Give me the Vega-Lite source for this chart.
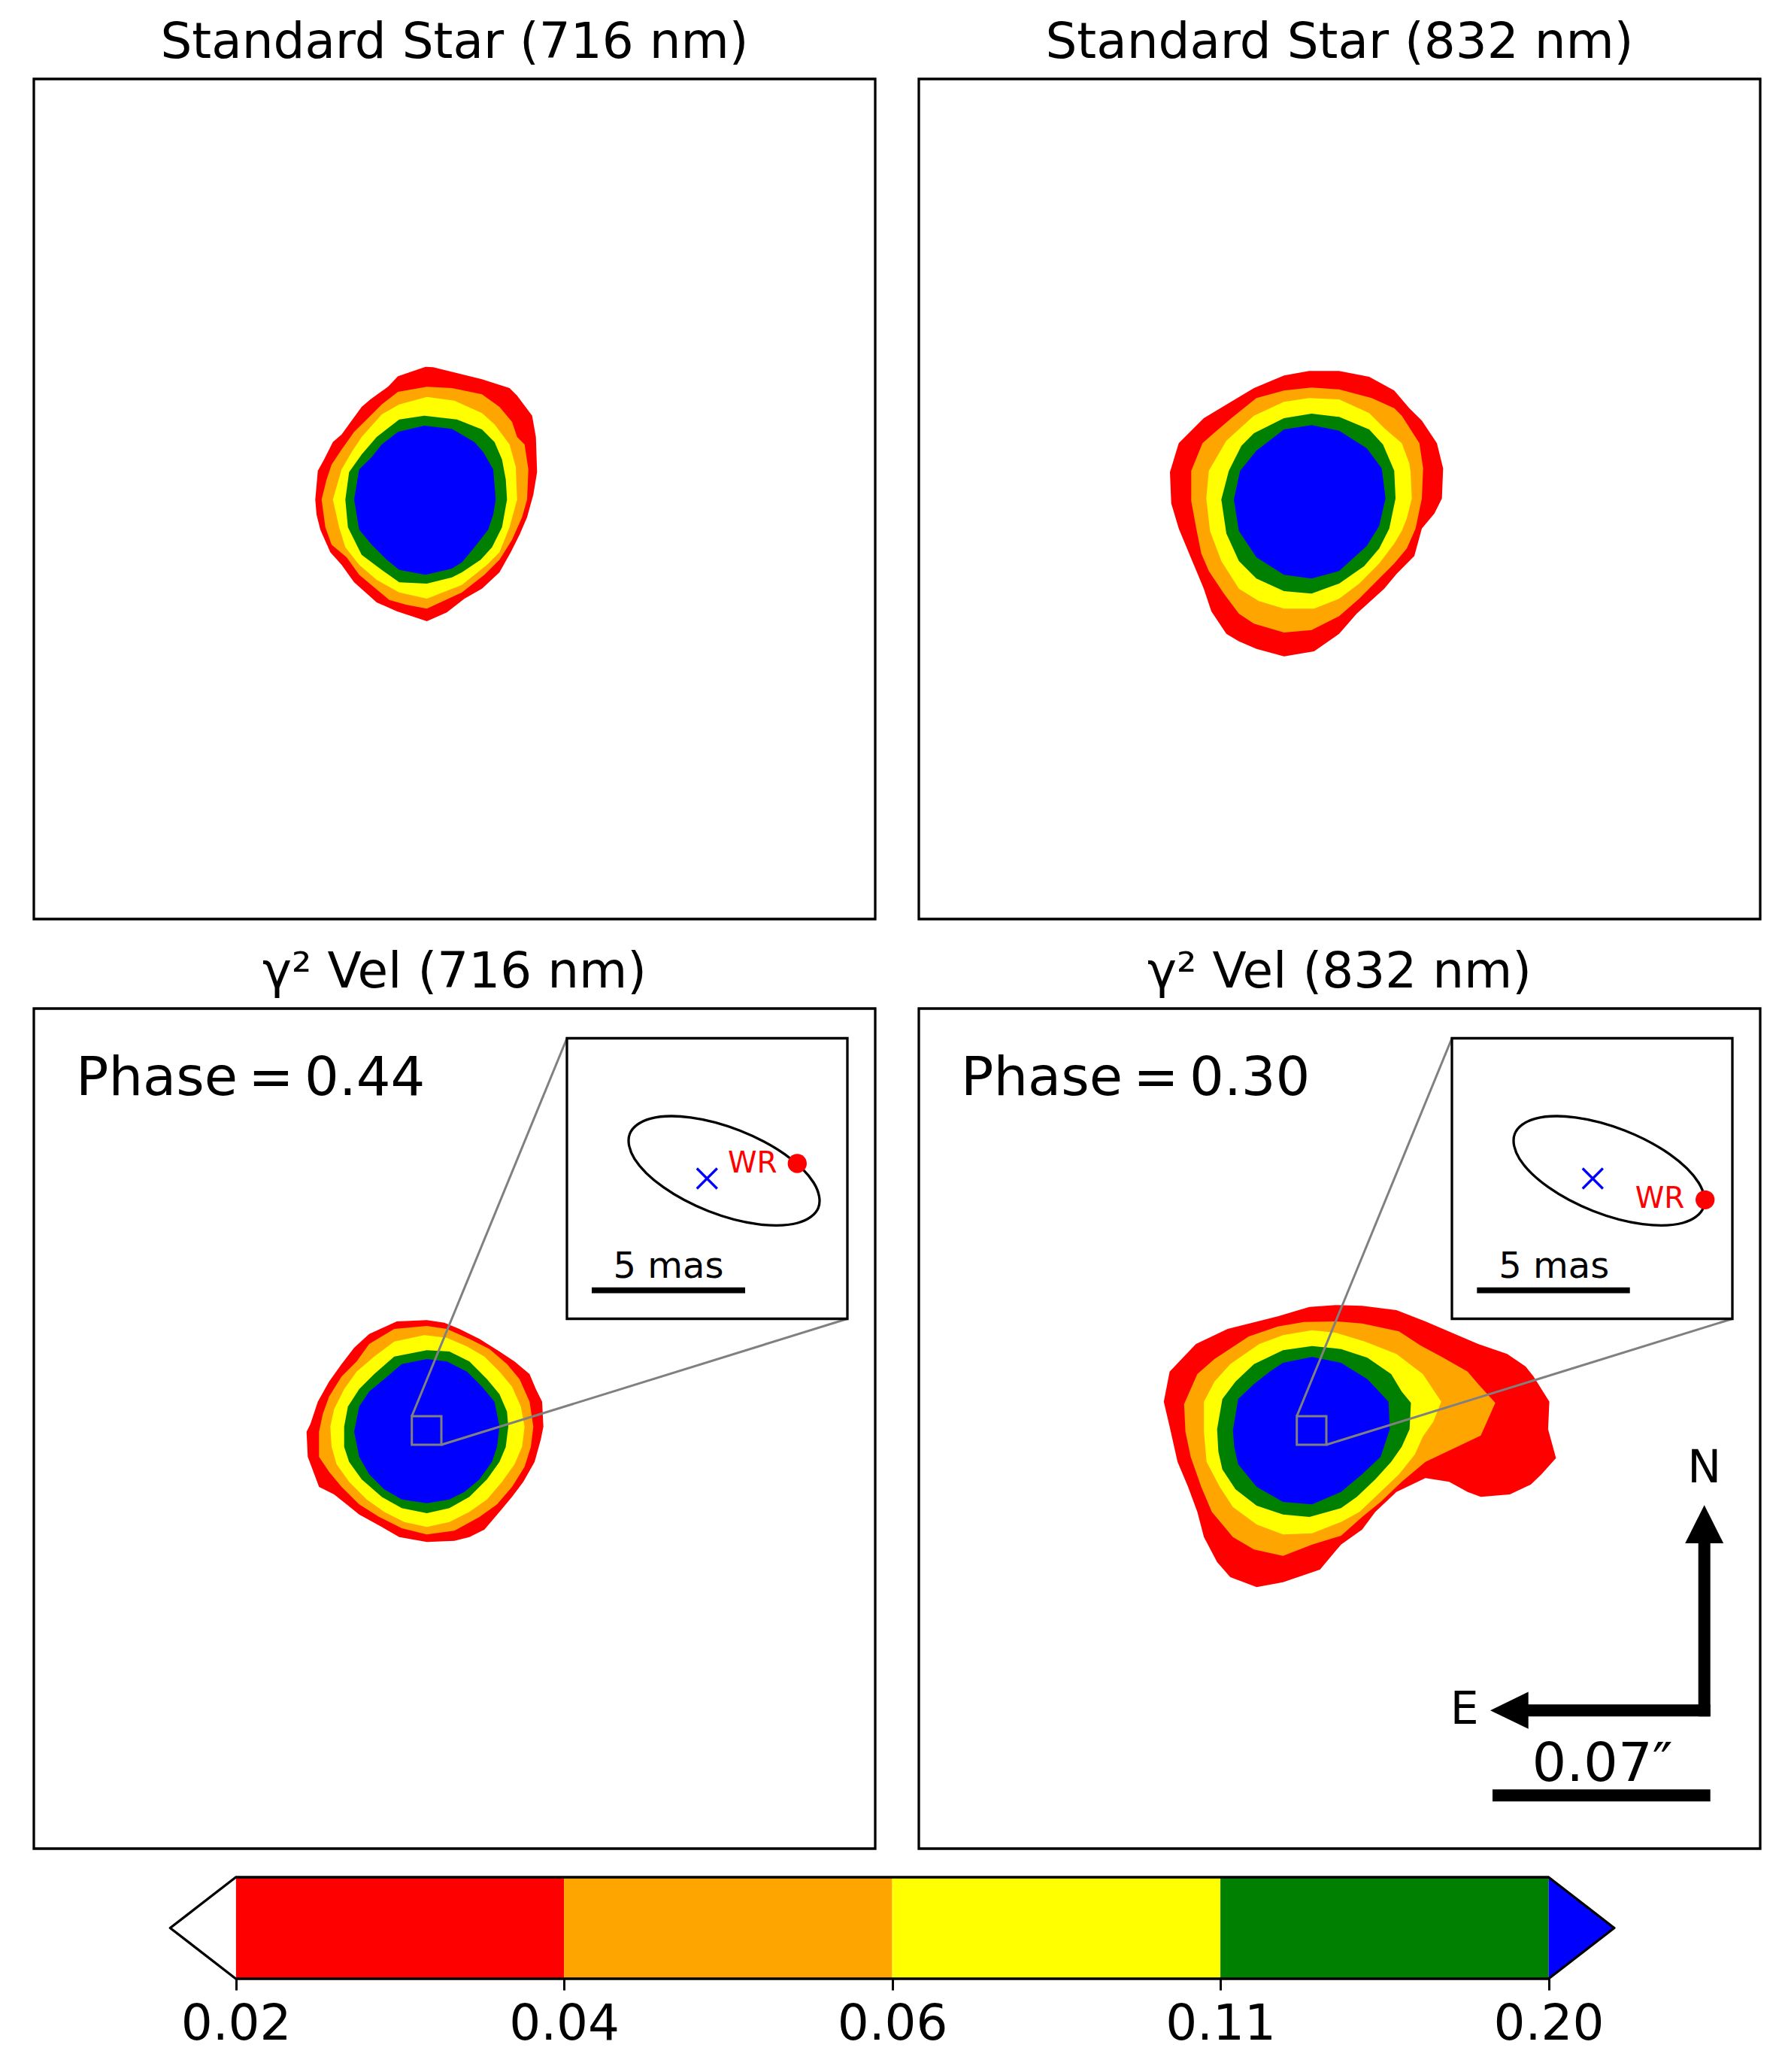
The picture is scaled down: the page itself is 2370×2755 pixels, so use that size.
{
"$schema": "https://vega.github.io/schema/vega-lite/v6.json",
"background": "white",
"padding": {"left": 43, "top": 22, "right": 10, "bottom": 10},
"config": {
  "view": {"stroke": "black", "strokeWidth": 3.3},
  "title": {"font": "DejaVu Sans", "fontSize": 66, "fontWeight": "normal", "color": "black", "offset": 14, "anchor": "middle"},
  "text": {"font": "DejaVu Sans", "color": "black"}
},
"datasets": {
"tl": [
{"level":0.02,"x":48.43,"y":72.17},{"level":0.02,"x":52.1,"y":73.43},{"level":0.02,"x":53.1,"y":73.37},{"level":0.02,"x":59.6,"y":71.77},{"level":0.02,"x":63.27,"y":70.6},{"level":0.02,"x":64.27,"y":69.6},{"level":0.02,"x":66.27,"y":66.93},{"level":0.02,"x":66.77,"y":64.1},{"level":0.02,"x":66.93,"y":59.43},{"level":0.02,"x":66.43,"y":56.43},{"level":0.02,"x":65.6,"y":53.43},{"level":0.02,"x":64.6,"y":51.1},{"level":0.02,"x":63.43,"y":48.77},{"level":0.02,"x":61.93,"y":46.1},{"level":0.02,"x":59.6,"y":43.93},{"level":0.02,"x":57.27,"y":42.6},{"level":0.02,"x":54.93,"y":40.77},{"level":0.02,"x":52.27,"y":39.6},{"level":0.02,"x":50.77,"y":40.1},{"level":0.02,"x":48.27,"y":40.93},{"level":0.02,"x":45.6,"y":42.1},{"level":0.02,"x":42.6,"y":44.77},{"level":0.02,"x":40.93,"y":47.1},{"level":0.02,"x":39.43,"y":48.77},{"level":0.02,"x":38.1,"y":51.77},{"level":0.02,"x":37.6,"y":53.77},{"level":0.02,"x":37.43,"y":55.77},{"level":0.02,"x":37.77,"y":59.6},{"level":0.02,"x":38.6,"y":61.1},{"level":0.02,"x":39.77,"y":63.43},{"level":0.02,"x":40.93,"y":64.43},{"level":0.02,"x":42.27,"y":66.27},{"level":0.02,"x":43.6,"y":68.1},{"level":0.02,"x":44.77,"y":69.1},{"level":0.02,"x":47.1,"y":70.77},
{"level":0.04,"x":52.27,"y":70.77},{"level":0.04,"x":55.6,"y":70.6},{"level":0.04,"x":59.6,"y":69.77},{"level":0.04,"x":61.93,"y":68.1},{"level":0.04,"x":63.6,"y":66.1},{"level":0.04,"x":64.27,"y":64.1},{"level":0.04,"x":65.27,"y":63.1},{"level":0.04,"x":65.77,"y":59.77},{"level":0.04,"x":65.6,"y":55.77},{"level":0.04,"x":64.93,"y":53.43},{"level":0.04,"x":63.6,"y":50.43},{"level":0.04,"x":61.93,"y":47.77},{"level":0.04,"x":59.93,"y":45.77},{"level":0.04,"x":56.93,"y":43.43},{"level":0.04,"x":52.27,"y":41.27},{"level":0.04,"x":49.6,"y":41.77},{"level":0.04,"x":47.27,"y":42.43},{"level":0.04,"x":45.27,"y":44.1},{"level":0.04,"x":43.27,"y":45.77},{"level":0.04,"x":41.6,"y":48.1},{"level":0.04,"x":39.6,"y":49.77},{"level":0.04,"x":38.77,"y":52.1},{"level":0.04,"x":38.27,"y":55.77},{"level":0.04,"x":38.93,"y":58.43},{"level":0.04,"x":39.6,"y":60.43},{"level":0.04,"x":40.93,"y":62.43},{"level":0.04,"x":42.6,"y":64.77},{"level":0.04,"x":44.27,"y":66.43},{"level":0.04,"x":46.27,"y":68.43},{"level":0.04,"x":48.43,"y":70.1},
{"level":0.06,"x":52.27,"y":69.43},{"level":0.06,"x":55.93,"y":68.93},{"level":0.06,"x":59.6,"y":67.27},{"level":0.06,"x":61.27,"y":65.77},{"level":0.06,"x":63.27,"y":63.1},{"level":0.06,"x":64.1,"y":60.1},{"level":0.06,"x":64.27,"y":55.77},{"level":0.06,"x":63.27,"y":52.1},{"level":0.06,"x":61.93,"y":48.77},{"level":0.06,"x":60.27,"y":47.1},{"level":0.06,"x":56.93,"y":44.43},{"level":0.06,"x":52.27,"y":42.6},{"level":0.06,"x":48.6,"y":43.43},{"level":0.06,"x":45.6,"y":45.1},{"level":0.06,"x":43.27,"y":47.1},{"level":0.06,"x":41.43,"y":49.43},{"level":0.06,"x":40.6,"y":52.1},{"level":0.06,"x":39.77,"y":55.77},{"level":0.06,"x":40.93,"y":59.77},{"level":0.06,"x":42.27,"y":62.1},{"level":0.06,"x":43.6,"y":64.1},{"level":0.06,"x":46.27,"y":67.1},{"level":0.06,"x":48.6,"y":68.43},
{"level":0.11,"x":51.93,"y":66.93},{"level":0.11,"x":56.27,"y":66.43},{"level":0.11,"x":59.6,"y":65.1},{"level":0.11,"x":61.27,"y":63.43},{"level":0.11,"x":62.27,"y":61.1},{"level":0.11,"x":62.77,"y":58.43},{"level":0.11,"x":62.93,"y":55.77},{"level":0.11,"x":62.27,"y":52.1},{"level":0.11,"x":60.93,"y":49.43},{"level":0.11,"x":59.43,"y":47.77},{"level":0.11,"x":56.93,"y":46.1},{"level":0.11,"x":55.6,"y":45.43},{"level":0.11,"x":52.27,"y":44.6},{"level":0.11,"x":48.6,"y":44.77},{"level":0.11,"x":46.27,"y":46.43},{"level":0.11,"x":43.6,"y":48.43},{"level":0.11,"x":41.77,"y":52.1},{"level":0.11,"x":41.43,"y":55.77},{"level":0.11,"x":41.93,"y":59.43},{"level":0.11,"x":43.6,"y":61.77},{"level":0.11,"x":45.6,"y":64.1},{"level":0.11,"x":48.6,"y":66.43},
{"level":0.2,"x":51.93,"y":65.6},{"level":0.2,"x":55.6,"y":65.17},{"level":0.2,"x":58.6,"y":63.43},{"level":0.2,"x":59.77,"y":62.1},{"level":0.2,"x":61.1,"y":59.77},{"level":0.2,"x":61.43,"y":55.77},{"level":0.2,"x":61.1,"y":53.77},{"level":0.2,"x":60.43,"y":51.77},{"level":0.2,"x":58.6,"y":49.43},{"level":0.2,"x":56.93,"y":47.43},{"level":0.2,"x":55.6,"y":46.6},{"level":0.2,"x":52.1,"y":45.77},{"level":0.2,"x":48.6,"y":46.43},{"level":0.2,"x":46.93,"y":47.77},{"level":0.2,"x":44.93,"y":49.77},{"level":0.2,"x":43.27,"y":51.77},{"level":0.2,"x":42.93,"y":53.77},{"level":0.2,"x":42.6,"y":55.77},{"level":0.2,"x":43.27,"y":59.77},{"level":0.2,"x":44.93,"y":61.43},{"level":0.2,"x":46.27,"y":63.1},{"level":0.2,"x":48.43,"y":64.77}
],
"tr": [
{"level":0.02,"x":48.57,"y":72.27},{"level":0.02,"x":51.9,"y":72.87},{"level":0.02,"x":55.9,"y":72.87},{"level":0.02,"x":59.9,"y":72.1},{"level":0.02,"x":63.23,"y":70.27},{"level":0.02,"x":65.23,"y":67.93},{"level":0.02,"x":66.9,"y":66.27},{"level":0.02,"x":68.9,"y":63.27},{"level":0.02,"x":69.73,"y":59.93},{"level":0.02,"x":69.57,"y":55.93},{"level":0.02,"x":68.57,"y":53.93},{"level":0.02,"x":66.9,"y":51.93},{"level":0.02,"x":65.9,"y":48.27},{"level":0.02,"x":63.57,"y":45.93},{"level":0.02,"x":61.9,"y":43.93},{"level":0.02,"x":58.23,"y":40.6},{"level":0.02,"x":55.9,"y":37.93},{"level":0.02,"x":52.57,"y":35.6},{"level":0.02,"x":48.57,"y":34.93},{"level":0.02,"x":44.9,"y":35.93},{"level":0.02,"x":42.57,"y":36.93},{"level":0.02,"x":40.9,"y":37.93},{"level":0.02,"x":38.9,"y":40.93},{"level":0.02,"x":37.9,"y":43.93},{"level":0.02,"x":36.23,"y":47.93},{"level":0.02,"x":34.57,"y":51.93},{"level":0.02,"x":33.57,"y":55.27},{"level":0.02,"x":33.4,"y":59.43},{"level":0.02,"x":34.57,"y":63.27},{"level":0.02,"x":37.9,"y":66.6},{"level":0.02,"x":41.23,"y":68.6},{"level":0.02,"x":44.57,"y":70.6},
{"level":0.04,"x":48.57,"y":70.27},{"level":0.04,"x":52.23,"y":70.67},{"level":0.04,"x":55.9,"y":70.43},{"level":0.04,"x":60.23,"y":69.27},{"level":0.04,"x":63.23,"y":67.93},{"level":0.04,"x":64.23,"y":66.93},{"level":0.04,"x":66.57,"y":63.27},{"level":0.04,"x":67.07,"y":59.93},{"level":0.04,"x":66.9,"y":55.93},{"level":0.04,"x":66.07,"y":51.93},{"level":0.04,"x":64.9,"y":49.27},{"level":0.04,"x":63.23,"y":47.27},{"level":0.04,"x":61.23,"y":45.27},{"level":0.04,"x":58.57,"y":42.6},{"level":0.04,"x":55.9,"y":40.27},{"level":0.04,"x":52.23,"y":38.43},{"level":0.04,"x":48.57,"y":38.1},{"level":0.04,"x":44.57,"y":39.27},{"level":0.04,"x":42.57,"y":40.6},{"level":0.04,"x":40.57,"y":43.27},{"level":0.04,"x":38.57,"y":46.27},{"level":0.04,"x":37.57,"y":48.6},{"level":0.04,"x":36.9,"y":51.93},{"level":0.04,"x":36.23,"y":55.6},{"level":0.04,"x":36.23,"y":59.6},{"level":0.04,"x":37.73,"y":63.27},{"level":0.04,"x":39.23,"y":64.6},{"level":0.04,"x":41.57,"y":66.6},{"level":0.04,"x":44.9,"y":69.27},
{"level":0.06,"x":48.57,"y":68.77},{"level":0.06,"x":51.9,"y":69.27},{"level":0.06,"x":55.9,"y":69.1},{"level":0.06,"x":59.9,"y":67.27},{"level":0.06,"x":61.9,"y":65.27},{"level":0.06,"x":64.23,"y":63.27},{"level":0.06,"x":65.23,"y":60.6},{"level":0.06,"x":65.4,"y":59.43},{"level":0.06,"x":65.57,"y":55.93},{"level":0.06,"x":64.9,"y":53.27},{"level":0.06,"x":64.23,"y":51.6},{"level":0.06,"x":63.23,"y":49.93},{"level":0.06,"x":61.23,"y":47.27},{"level":0.06,"x":58.57,"y":44.6},{"level":0.06,"x":55.9,"y":42.6},{"level":0.06,"x":52.57,"y":41.27},{"level":0.06,"x":48.57,"y":41.27},{"level":0.06,"x":45.23,"y":42.27},{"level":0.06,"x":42.57,"y":43.93},{"level":0.06,"x":40.23,"y":47.6},{"level":0.06,"x":38.73,"y":51.6},{"level":0.06,"x":38.23,"y":55.93},{"level":0.06,"x":38.57,"y":59.6},{"level":0.06,"x":40.9,"y":63.6},{"level":0.06,"x":44.57,"y":66.93},
{"level":0.11,"x":48.57,"y":66.6},{"level":0.11,"x":52.23,"y":67.2},{"level":0.11,"x":55.9,"y":66.77},{"level":0.11,"x":59.9,"y":65.1},{"level":0.11,"x":61.73,"y":63.1},{"level":0.11,"x":63.23,"y":59.6},{"level":0.11,"x":63.4,"y":55.93},{"level":0.11,"x":62.57,"y":51.93},{"level":0.11,"x":61.23,"y":49.27},{"level":0.11,"x":59.23,"y":46.93},{"level":0.11,"x":55.9,"y":44.6},{"level":0.11,"x":52.23,"y":43.27},{"level":0.11,"x":48.57,"y":43.6},{"level":0.11,"x":44.9,"y":45.27},{"level":0.11,"x":42.57,"y":47.6},{"level":0.11,"x":40.9,"y":51.27},{"level":0.11,"x":40.23,"y":55.77},{"level":0.11,"x":41.23,"y":59.6},{"level":0.11,"x":42.9,"y":62.93},{"level":0.11,"x":44.57,"y":64.6},
{"level":0.2,"x":48.57,"y":65.1},{"level":0.2,"x":52.23,"y":65.67},{"level":0.2,"x":55.9,"y":64.93},{"level":0.2,"x":59.57,"y":62.6},{"level":0.2,"x":61.57,"y":59.93},{"level":0.2,"x":62.07,"y":55.93},{"level":0.2,"x":61.23,"y":52.27},{"level":0.2,"x":59.57,"y":49.6},{"level":0.2,"x":55.9,"y":46.27},{"level":0.2,"x":52.23,"y":45.27},{"level":0.2,"x":48.57,"y":45.77},{"level":0.2,"x":44.9,"y":48.1},{"level":0.2,"x":42.57,"y":51.6},{"level":0.2,"x":41.9,"y":55.77},{"level":0.2,"x":42.73,"y":59.6},{"level":0.2,"x":44.9,"y":62.27}
],
"bl": [
{"level":0.02,"x":48.27,"y":70.1},{"level":0.02,"x":52.27,"y":70.27},{"level":0.02,"x":54.6,"y":69.93},{"level":0.02,"x":56.6,"y":69.1},{"level":0.02,"x":59.27,"y":67.77},{"level":0.02,"x":61.93,"y":66.1},{"level":0.02,"x":63.93,"y":64.77},{"level":0.02,"x":65.93,"y":63.1},{"level":0.02,"x":66.77,"y":61.1},{"level":0.02,"x":67.6,"y":59.43},{"level":0.02,"x":67.77,"y":56.1},{"level":0.02,"x":67.43,"y":54.43},{"level":0.02,"x":66.6,"y":51.43},{"level":0.02,"x":65.1,"y":48.77},{"level":0.02,"x":63.6,"y":46.77},{"level":0.02,"x":61.93,"y":44.77},{"level":0.02,"x":59.93,"y":42.43},{"level":0.02,"x":57.93,"y":41.43},{"level":0.02,"x":55.93,"y":40.93},{"level":0.02,"x":52.27,"y":40.77},{"level":0.02,"x":48.6,"y":41.43},{"level":0.02,"x":46.27,"y":42.77},{"level":0.02,"x":43.27,"y":44.43},{"level":0.02,"x":41.6,"y":45.77},{"level":0.02,"x":39.93,"y":47.1},{"level":0.02,"x":37.93,"y":48.1},{"level":0.02,"x":36.93,"y":50.77},{"level":0.02,"x":36.43,"y":52.1},{"level":0.02,"x":36.27,"y":55.43},{"level":0.02,"x":36.77,"y":56.43},{"level":0.02,"x":37.77,"y":59.43},{"level":0.02,"x":39.27,"y":62.1},{"level":0.02,"x":40.93,"y":64.43},{"level":0.02,"x":42.6,"y":66.6},{"level":0.02,"x":44.6,"y":68.43},
{"level":0.04,"x":52.27,"y":69.5},{"level":0.04,"x":54.93,"y":69.1},{"level":0.04,"x":57.93,"y":67.77},{"level":0.04,"x":60.6,"y":66.43},{"level":0.04,"x":62.93,"y":64.43},{"level":0.04,"x":64.6,"y":62.43},{"level":0.04,"x":65.93,"y":59.43},{"level":0.04,"x":66.43,"y":56.1},{"level":0.04,"x":66.1,"y":53.43},{"level":0.04,"x":65.27,"y":50.77},{"level":0.04,"x":63.6,"y":48.1},{"level":0.04,"x":61.6,"y":45.77},{"level":0.04,"x":59.27,"y":44.1},{"level":0.04,"x":55.93,"y":42.27},{"level":0.04,"x":52.27,"y":41.77},{"level":0.04,"x":48.93,"y":42.6},{"level":0.04,"x":45.93,"y":44.1},{"level":0.04,"x":43.27,"y":45.77},{"level":0.04,"x":40.93,"y":48.1},{"level":0.04,"x":39.27,"y":50.1},{"level":0.04,"x":37.93,"y":52.1},{"level":0.04,"x":37.93,"y":55.43},{"level":0.04,"x":38.43,"y":57.77},{"level":0.04,"x":39.27,"y":60.1},{"level":0.04,"x":40.93,"y":62.77},{"level":0.04,"x":42.93,"y":64.77},{"level":0.04,"x":44.6,"y":67.1},{"level":0.04,"x":47.93,"y":69.1},
{"level":0.06,"x":51.93,"y":68.27},{"level":0.06,"x":54.93,"y":67.93},{"level":0.06,"x":57.6,"y":66.77},{"level":0.06,"x":59.93,"y":65.43},{"level":0.06,"x":61.93,"y":63.43},{"level":0.06,"x":63.6,"y":61.43},{"level":0.06,"x":64.77,"y":58.77},{"level":0.06,"x":65.27,"y":56.1},{"level":0.06,"x":64.93,"y":53.43},{"level":0.06,"x":63.93,"y":51.1},{"level":0.06,"x":62.27,"y":48.77},{"level":0.06,"x":60.27,"y":46.43},{"level":0.06,"x":57.93,"y":44.77},{"level":0.06,"x":55.27,"y":43.43},{"level":0.06,"x":52.27,"y":42.77},{"level":0.06,"x":49.27,"y":43.43},{"level":0.06,"x":46.6,"y":44.77},{"level":0.06,"x":44.27,"y":46.43},{"level":0.06,"x":41.93,"y":48.77},{"level":0.06,"x":40.27,"y":51.1},{"level":0.06,"x":39.6,"y":53.43},{"level":0.06,"x":39.43,"y":56.1},{"level":0.06,"x":39.93,"y":58.43},{"level":0.06,"x":41.27,"y":61.1},{"level":0.06,"x":42.93,"y":63.43},{"level":0.06,"x":45.27,"y":65.43},{"level":0.06,"x":47.93,"y":67.43},
{"level":0.11,"x":52.27,"y":66.27},{"level":0.11,"x":55.27,"y":66.1},{"level":0.11,"x":57.93,"y":64.77},{"level":0.11,"x":60.27,"y":62.43},{"level":0.11,"x":61.93,"y":60.43},{"level":0.11,"x":62.93,"y":58.1},{"level":0.11,"x":63.1,"y":56.1},{"level":0.11,"x":62.77,"y":53.43},{"level":0.11,"x":61.93,"y":51.43},{"level":0.11,"x":60.27,"y":49.1},{"level":0.11,"x":57.93,"y":46.77},{"level":0.11,"x":55.27,"y":45.27},{"level":0.11,"x":52.27,"y":44.6},{"level":0.11,"x":48.93,"y":45.27},{"level":0.11,"x":46.27,"y":46.77},{"level":0.11,"x":43.6,"y":49.1},{"level":0.11,"x":41.93,"y":51.43},{"level":0.11,"x":41.27,"y":53.43},{"level":0.11,"x":41.27,"y":56.1},{"level":0.11,"x":41.77,"y":58.77},{"level":0.11,"x":43.27,"y":61.1},{"level":0.11,"x":45.27,"y":63.1},{"level":0.11,"x":47.93,"y":65.43},
{"level":0.2,"x":52.27,"y":65.1},{"level":0.2,"x":54.93,"y":64.77},{"level":0.2,"x":57.6,"y":63.43},{"level":0.2,"x":59.6,"y":61.43},{"level":0.2,"x":61.27,"y":59.43},{"level":0.2,"x":61.93,"y":56.1},{"level":0.2,"x":61.6,"y":53.43},{"level":0.2,"x":60.93,"y":51.43},{"level":0.2,"x":59.27,"y":49.1},{"level":0.2,"x":57.27,"y":47.43},{"level":0.2,"x":55.27,"y":46.43},{"level":0.2,"x":52.27,"y":45.93},{"level":0.2,"x":48.93,"y":46.43},{"level":0.2,"x":46.6,"y":47.77},{"level":0.2,"x":44.6,"y":49.77},{"level":0.2,"x":43.27,"y":52.1},{"level":0.2,"x":42.6,"y":55.43},{"level":0.2,"x":43.27,"y":58.77},{"level":0.2,"x":44.6,"y":60.77},{"level":0.2,"x":46.6,"y":62.43},{"level":0.2,"x":48.93,"y":64.43}
],
"br": [
{"level":0.02,"x":33.36,"y":63.43},{"level":0.02,"x":36.86,"y":67.1},{"level":0.02,"x":41.07,"y":69.1},{"level":0.02,"x":47.74,"y":70.77},{"level":0.02,"x":51.95,"y":72.03},{"level":0.02,"x":55.45,"y":72.27},{"level":0.02,"x":58.96,"y":72.17},{"level":0.02,"x":63.52,"y":71.6},{"level":0.02,"x":67.38,"y":70.1},{"level":0.02,"x":70.88,"y":68.6},{"level":0.02,"x":74.39,"y":67.1},{"level":0.02,"x":78.25,"y":65.77},{"level":0.02,"x":80.71,"y":64.1},{"level":0.02,"x":81.76,"y":62.77},{"level":0.02,"x":83.86,"y":59.43},{"level":0.02,"x":83.69,"y":55.77},{"level":0.02,"x":84.74,"y":51.93},{"level":0.02,"x":82.81,"y":49.77},{"level":0.02,"x":81.41,"y":48.43},{"level":0.02,"x":78.6,"y":47.1},{"level":0.02,"x":74.74,"y":46.77},{"level":0.02,"x":72.99,"y":47.43},{"level":0.02,"x":70.53,"y":48.77},{"level":0.02,"x":67.38,"y":49.27},{"level":0.02,"x":63.52,"y":47.43},{"level":0.02,"x":60.71,"y":44.77},{"level":0.02,"x":58.96,"y":42.43},{"level":0.02,"x":56.15,"y":40.43},{"level":0.02,"x":53.35,"y":37.1},{"level":0.02,"x":48.44,"y":35.43},{"level":0.02,"x":44.93,"y":34.77},{"level":0.02,"x":41.42,"y":36.1},{"level":0.02,"x":39.67,"y":38.1},{"level":0.02,"x":37.92,"y":41.43},{"level":0.02,"x":37.04,"y":44.77},{"level":0.02,"x":35.81,"y":48.1},{"level":0.02,"x":34.41,"y":51.43},{"level":0.02,"x":33.36,"y":56.1},{"level":0.02,"x":32.58,"y":59.43},
{"level":0.04,"x":37.04,"y":63.1},{"level":0.04,"x":39.32,"y":65.1},{"level":0.04,"x":43.88,"y":68.1},{"level":0.04,"x":47.74,"y":69.43},{"level":0.04,"x":51.24,"y":70.03},{"level":0.04,"x":55.45,"y":70.1},{"level":0.04,"x":58.96,"y":69.83},{"level":0.04,"x":63.87,"y":68.77},{"level":0.04,"x":66.68,"y":66.93},{"level":0.04,"x":69.48,"y":65.43},{"level":0.04,"x":72.99,"y":63.43},{"level":0.04,"x":74.39,"y":61.77},{"level":0.04,"x":76.67,"y":59.27},{"level":0.04,"x":74.74,"y":54.93},{"level":0.04,"x":71.59,"y":53.43},{"level":0.04,"x":67.38,"y":51.43},{"level":0.04,"x":64.22,"y":48.77},{"level":0.04,"x":61.42,"y":46.1},{"level":0.04,"x":58.96,"y":44.1},{"level":0.04,"x":56.15,"y":41.6},{"level":0.04,"x":52.3,"y":40.43},{"level":0.04,"x":48.44,"y":38.93},{"level":0.04,"x":44.58,"y":39.77},{"level":0.04,"x":41.77,"y":41.43},{"level":0.04,"x":38.97,"y":44.77},{"level":0.04,"x":37.56,"y":48.1},{"level":0.04,"x":36.16,"y":52.1},{"level":0.04,"x":35.46,"y":55.43},{"level":0.04,"x":35.28,"y":59.1},
{"level":0.06,"x":37.92,"y":59.43},{"level":0.06,"x":39.32,"y":62.1},{"level":0.06,"x":41.42,"y":64.43},{"level":0.06,"x":45.28,"y":67.1},{"level":0.06,"x":48.44,"y":68.27},{"level":0.06,"x":52.3,"y":68.93},{"level":0.06,"x":55.45,"y":68.6},{"level":0.06,"x":59.31,"y":67.43},{"level":0.06,"x":63.52,"y":65.77},{"level":0.06,"x":67.03,"y":63.1},{"level":0.06,"x":69.48,"y":59.43},{"level":0.06,"x":68.43,"y":56.77},{"level":0.06,"x":67.03,"y":54.77},{"level":0.06,"x":65.98,"y":52.43},{"level":0.06,"x":63.87,"y":49.77},{"level":0.06,"x":61.06,"y":47.1},{"level":0.06,"x":58.61,"y":44.77},{"level":0.06,"x":56.15,"y":43.43},{"level":0.06,"x":52.3,"y":41.93},{"level":0.06,"x":48.44,"y":41.77},{"level":0.06,"x":44.93,"y":43.1},{"level":0.06,"x":41.77,"y":45.43},{"level":0.06,"x":40.02,"y":48.1},{"level":0.06,"x":38.27,"y":51.43},{"level":0.06,"x":37.92,"y":55.43},
{"level":0.11,"x":39.67,"y":55.77},{"level":0.11,"x":40.37,"y":59.77},{"level":0.11,"x":42.12,"y":62.1},{"level":0.11,"x":44.58,"y":64.43},{"level":0.11,"x":48.44,"y":66.27},{"level":0.11,"x":52.3,"y":66.83},{"level":0.11,"x":56.15,"y":66.43},{"level":0.11,"x":59.66,"y":65.27},{"level":0.11,"x":62.82,"y":63.1},{"level":0.11,"x":64.22,"y":60.77},{"level":0.11,"x":65.45,"y":59.27},{"level":0.11,"x":65.27,"y":55.77},{"level":0.11,"x":64.22,"y":53.43},{"level":0.11,"x":62.82,"y":51.43},{"level":0.11,"x":60.71,"y":49.1},{"level":0.11,"x":58.26,"y":46.77},{"level":0.11,"x":56.15,"y":45.27},{"level":0.11,"x":51.95,"y":44.1},{"level":0.11,"x":48.44,"y":44.43},{"level":0.11,"x":44.93,"y":45.6},{"level":0.11,"x":42.12,"y":47.77},{"level":0.11,"x":40.37,"y":50.43},{"level":0.11,"x":39.84,"y":52.77},
{"level":0.2,"x":41.77,"y":55.6},{"level":0.2,"x":42.47,"y":59.77},{"level":0.2,"x":44.58,"y":61.77},{"level":0.2,"x":46.68,"y":63.43},{"level":0.2,"x":48.44,"y":64.6},{"level":0.2,"x":52.3,"y":65.37},{"level":0.2,"x":56.15,"y":64.6},{"level":0.2,"x":59.66,"y":62.43},{"level":0.2,"x":62.47,"y":59.43},{"level":0.2,"x":62.64,"y":55.77},{"level":0.2,"x":61.42,"y":52.1},{"level":0.2,"x":58.96,"y":49.77},{"level":0.2,"x":56.15,"y":47.43},{"level":0.2,"x":52.3,"y":45.77},{"level":0.2,"x":48.44,"y":46.1},{"level":0.2,"x":44.93,"y":48.1},{"level":0.2,"x":42.47,"y":51.1},{"level":0.2,"x":41.95,"y":53.43}
],
"orbit": [
{"x":104.34,"y":85.22},{"x":101.61,"y":83.2},{"x":96.25,"y":83.04},{"x":89.7,"y":84.78},{"x":83.71,"y":87.96},{"x":79.89,"y":91.72},{"x":79.26,"y":95.05},{"x":81.99,"y":97.07},{"x":87.35,"y":97.22},{"x":93.9,"y":95.48},{"x":99.89,"y":92.31},{"x":103.71,"y":88.55}
],
"links": [
{"x":50.27,"y":57.5,"x2":70.9,"y2":107.75},{"x":54.2,"y":53.7,"x2":108.2,"y2":70.45}
],
"zoombox": [{"x":50.27,"x2":54.2,"y":53.7,"y2":57.5}],
"insetbox": [{"x":70.9,"x2":108.2,"y":70.45,"y2":107.75}],
"cbar": [
{"x":0,"x2":1,"y":0,"y2":1,"level":0.02},{"x":1,"x2":2,"y":0,"y2":1,"level":0.04},{"x":2,"x2":3,"y":0,"y2":1,"level":0.06},{"x":3,"x2":4,"y":0,"y2":1,"level":0.11}
],
"cbext": [
{"level":0,"x":-0.2,"y":0.5},{"level":0,"x":0,"y":1},{"level":0,"x":0,"y":0},
{"level":0.3,"x":4,"y":1},{"level":0.3,"x":4.2,"y":0.5},{"level":0.3,"x":4,"y":0}
],
"cbout": [
{"x":-0.2,"y":0.5},{"x":0,"y":1},{"x":4,"y":1},{"x":4.2,"y":0.5},{"x":4,"y":0},{"x":0,"y":0}
],
"shafts": [
{"x":104.47,"y":18.38,"x2":104.47,"y2":40.6},{"x":104.47,"y":18.38,"x2":81.07,"y2":18.38}
],
"heads": [
{"part":"N","x":101.92,"y":40.6},{"part":"N","x":104.47,"y":45.67},{"part":"N","x":107.02,"y":40.6},
{"part":"E","x":81.07,"y":20.84},{"part":"E","x":76.0,"y":18.38},{"part":"E","x":81.07,"y":15.92}
],
"compass": [
{"x":104.48,"y":48.67,"label":"N"},{"x":72.57,"y":16.6,"label":"E"}
]
},
"vconcat": [
{
"hconcat": [
{
"width": 1119, "height": 1117,
"title": {"text": "Standard Star (716 nm)"},
"data": {"name": "tl"},
"mark": {"type": "line", "interpolate": "linear-closed", "filled": true},
"encoding": {
 "x": {"field": "x", "type": "quantitative", "scale": {"domain": [0, 111.9], "nice": false, "zero": false}, "axis": null},
 "y": {"field": "y", "type": "quantitative", "scale": {"domain": [0, 111.7], "nice": false, "zero": false}, "axis": null},
 "color": {"field": "level", "type": "quantitative", "scale": {"type": "threshold", "domain": [0.02, 0.04, 0.06, 0.11, 0.2], "range": ["white", "red", "orange", "yellow", "green", "blue"]}, "legend": null},
 "detail": {"field": "level", "type": "nominal"},
 "order": {"value": null}
}
},
{
"width": 1119, "height": 1117,
"title": {"text": "Standard Star (832 nm)"},
"data": {"name": "tr"},
"mark": {"type": "line", "interpolate": "linear-closed", "filled": true},
"encoding": {
 "x": {"field": "x", "type": "quantitative", "scale": {"domain": [0, 111.9], "nice": false, "zero": false}, "axis": null},
 "y": {"field": "y", "type": "quantitative", "scale": {"domain": [0, 111.7], "nice": false, "zero": false}, "axis": null},
 "color": {"field": "level", "type": "quantitative", "scale": {"type": "threshold", "domain": [0.02, 0.04, 0.06, 0.11, 0.2], "range": ["white", "red", "orange", "yellow", "green", "blue"]}, "legend": null},
 "detail": {"field": "level", "type": "nominal"},
 "order": {"value": null}
}
}
],
"spacing": 58,
"bounds": "flush"
},
{
"hconcat": [
{
"width": 1119, "height": 1117,
"title": {"text": "γ² Vel (716 nm)"},
"encoding": {
 "x": {"field": "x", "type": "quantitative", "scale": {"domain": [0, 111.9], "nice": false, "zero": false}, "axis": null},
 "y": {"field": "y", "type": "quantitative", "scale": {"domain": [0, 111.7], "nice": false, "zero": false}, "axis": null}
},
"layer": [
 {"data": {"name": "bl"}, "mark": {"type": "line", "interpolate": "linear-closed", "filled": true},
  "encoding": {"color": {"field": "level", "type": "quantitative", "scale": {"type": "threshold", "domain": [0.02, 0.04, 0.06, 0.11, 0.2], "range": ["white", "red", "orange", "yellow", "green", "blue"]}, "legend": null}, "detail": {"field": "level", "type": "nominal"}, "order": {"value": null}}},
 {"data": {"name": "links"}, "mark": {"type": "rule", "color": "gray", "strokeWidth": 3}, "encoding": {"x2": {"field": "x2"}, "y2": {"field": "y2"}}},
 {"data": {"name": "zoombox"}, "mark": {"type": "rect", "filled": false, "stroke": "gray", "strokeWidth": 3}, "encoding": {"x2": {"field": "x2"}, "y2": {"field": "y2"}}},
 {"data": {"name": "insetbox"}, "mark": {"type": "rect", "fill": "white", "stroke": "black", "strokeWidth": 3.3}, "encoding": {"x2": {"field": "x2"}, "y2": {"field": "y2"}}},
 {"data": {"name": "orbit"}, "mark": {"type": "line", "interpolate": "cardinal-closed", "color": "black", "strokeWidth": 3.3}, "encoding": {"order": {"value": null}}},
 {"data": {"values": [{"x": 89.53, "y": 89.1}]}, "mark": {"type": "point", "shape": "M-1,-1L1,1M-1,1L1,-1", "size": 729, "filled": false, "stroke": "blue", "strokeWidth": 3.3, "opacity": 1}},
 {"data": {"values": [{"x": 101.53, "y": 91.1}]}, "mark": {"type": "point", "shape": "circle", "size": 640, "filled": true, "color": "red", "opacity": 1}},
 {"data": {"values": [{"x": 98.87, "y": 89.93, "label": "WR"}]}, "mark": {"type": "text", "align": "right", "baseline": "alphabetic", "fontSize": 39, "color": "red"}, "encoding": {"text": {"field": "label"}}},
 {"data": {"values": [{"x": 84.4, "y": 75.9, "label": "5 mas"}]}, "mark": {"type": "text", "align": "center", "baseline": "alphabetic", "fontSize": 48}, "encoding": {"text": {"field": "label"}}},
 {"data": {"values": [{"x": 74.2, "x2": 94.6, "y": 74.23}]}, "mark": {"type": "rule", "color": "black", "strokeWidth": 7.7, "strokeCap": "butt"}, "encoding": {"x2": {"field": "x2"}}},
 {"data": {"values": [{"x": 5.6, "y": 100.2, "label": "Phase\u2009=\u20090.44"}]}, "mark": {"type": "text", "align": "left", "baseline": "alphabetic", "fontSize": 72}, "encoding": {"text": {"field": "label"}}}
]
},
{
"width": 1119, "height": 1117,
"title": {"text": "γ² Vel (832 nm)"},
"encoding": {
 "x": {"field": "x", "type": "quantitative", "scale": {"domain": [0, 111.9], "nice": false, "zero": false}, "axis": null},
 "y": {"field": "y", "type": "quantitative", "scale": {"domain": [0, 111.7], "nice": false, "zero": false}, "axis": null}
},
"layer": [
 {"data": {"name": "br"}, "mark": {"type": "line", "interpolate": "linear-closed", "filled": true},
  "encoding": {"color": {"field": "level", "type": "quantitative", "scale": {"type": "threshold", "domain": [0.02, 0.04, 0.06, 0.11, 0.2], "range": ["white", "red", "orange", "yellow", "green", "blue"]}, "legend": null}, "detail": {"field": "level", "type": "nominal"}, "order": {"value": null}}},
 {"data": {"name": "links"}, "mark": {"type": "rule", "color": "gray", "strokeWidth": 3}, "encoding": {"x2": {"field": "x2"}, "y2": {"field": "y2"}}},
 {"data": {"name": "zoombox"}, "mark": {"type": "rect", "filled": false, "stroke": "gray", "strokeWidth": 3}, "encoding": {"x2": {"field": "x2"}, "y2": {"field": "y2"}}},
 {"data": {"name": "insetbox"}, "mark": {"type": "rect", "fill": "white", "stroke": "black", "strokeWidth": 3.3}, "encoding": {"x2": {"field": "x2"}, "y2": {"field": "y2"}}},
 {"data": {"name": "orbit"}, "mark": {"type": "line", "interpolate": "cardinal-closed", "color": "black", "strokeWidth": 3.3}, "encoding": {"order": {"value": null}}},
 {"data": {"values": [{"x": 89.63, "y": 89.1}]}, "mark": {"type": "point", "shape": "M-1,-1L1,1M-1,1L1,-1", "size": 729, "filled": false, "stroke": "blue", "strokeWidth": 3.3, "opacity": 1}},
 {"data": {"values": [{"x": 104.57, "y": 86.27}]}, "mark": {"type": "point", "shape": "circle", "size": 640, "filled": true, "color": "red", "opacity": 1}},
 {"data": {"values": [{"x": 101.83, "y": 85.17, "label": "WR"}]}, "mark": {"type": "text", "align": "right", "baseline": "alphabetic", "fontSize": 39, "color": "red"}, "encoding": {"text": {"field": "label"}}},
 {"data": {"values": [{"x": 84.48, "y": 75.93, "label": "5 mas"}]}, "mark": {"type": "text", "align": "center", "baseline": "alphabetic", "fontSize": 48}, "encoding": {"text": {"field": "label"}}},
 {"data": {"values": [{"x": 74.23, "x2": 94.57, "y": 74.23}]}, "mark": {"type": "rule", "color": "black", "strokeWidth": 7.7, "strokeCap": "butt"}, "encoding": {"x2": {"field": "x2"}}},
 {"data": {"values": [{"x": 5.6, "y": 100.2, "label": "Phase\u2009=\u20090.30"}]}, "mark": {"type": "text", "align": "left", "baseline": "alphabetic", "fontSize": 72}, "encoding": {"text": {"field": "label"}}},
 {"data": {"name": "shafts"}, "mark": {"type": "rule", "color": "black", "strokeWidth": 16, "strokeCap": "square"}, "encoding": {"x2": {"field": "x2"}, "y2": {"field": "y2"}}},
 {"data": {"name": "heads"}, "mark": {"type": "line", "interpolate": "linear-closed", "filled": true, "color": "black"}, "encoding": {"detail": {"field": "part", "type": "nominal"}, "order": {"value": null}}},
 {"data": {"name": "compass"}, "mark": {"type": "text", "align": "center", "baseline": "alphabetic", "fontSize": 60}, "encoding": {"text": {"field": "label"}}},
 {"data": {"values": [{"x": 90.9, "y": 9.0, "label": "0.07″"}]}, "mark": {"type": "text", "align": "center", "baseline": "alphabetic", "fontSize": 72}, "encoding": {"text": {"field": "label"}}},
 {"data": {"values": [{"x": 76.3, "x2": 105.27, "y": 7.07}]}, "mark": {"type": "rule", "color": "black", "strokeWidth": 16, "strokeCap": "butt"}, "encoding": {"x2": {"field": "x2"}}}
]
}
],
"spacing": 58,
"bounds": "flush"
},
{
"width": 2296, "height": 135,
"view": {"stroke": null},
"encoding": {
 "x": {"field": "x", "type": "quantitative", "scale": {"domain": [-0.6154, 4.6447], "nice": false, "zero": false},
   "axis": {"orient": "bottom", "values": [0, 1, 2, 3, 4], "labelExpr": "['0.02','0.04','0.06','0.11','0.20'][datum.value]", "domain": false, "grid": false, "ticks": true, "tickSize": 15, "tickWidth": 3, "tickColor": "black", "labelFont": "DejaVu Sans", "labelFontSize": 66, "labelColor": "black", "labelBaseline": "alphabetic", "labelPadding": 65, "labelFlush": false, "labelOverlap": false, "title": null}},
 "y": {"field": "y", "type": "quantitative", "scale": {"domain": [0, 1], "nice": false, "zero": false}, "axis": null}
},
"layer": [
 {"data": {"name": "cbar"}, "mark": {"type": "rect"},
  "encoding": {"x2": {"field": "x2"}, "y2": {"field": "y2"}, "color": {"field": "level", "type": "quantitative", "scale": {"type": "threshold", "domain": [0.02, 0.04, 0.06, 0.11, 0.2], "range": ["white", "red", "orange", "yellow", "green", "blue"]}, "legend": null}}},
 {"data": {"name": "cbext"}, "mark": {"type": "line", "interpolate": "linear-closed", "filled": true},
  "encoding": {"color": {"field": "level", "type": "quantitative", "scale": {"type": "threshold", "domain": [0.02, 0.04, 0.06, 0.11, 0.2], "range": ["white", "red", "orange", "yellow", "green", "blue"]}, "legend": null}, "detail": {"field": "level", "type": "nominal"}, "order": {"value": null}}},
 {"data": {"name": "cbout"}, "mark": {"type": "line", "interpolate": "linear-closed", "color": "black", "strokeWidth": 3.3, "strokeJoin": "round"}, "encoding": {"order": {"value": null}}}
]
}
],
"spacing": 34
}
